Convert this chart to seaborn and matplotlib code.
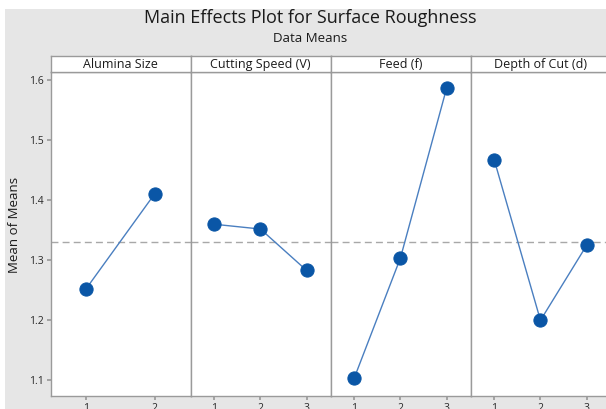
import numpy as np
import pandas as pd
import matplotlib
matplotlib.use("Agg")
import matplotlib.pyplot as plt
import seaborn as sns
from matplotlib.patches import Rectangle

# === Data ===
factors = ["Alumina Size", "Cutting Speed (V)", "Feed (f)", "Depth of Cut (d)"]
alumina_means = [1.252, 1.411]
speed_means = [1.360, 1.352, 1.283]
feed_means = [1.104, 1.304, 1.587]
depth_means = [1.467, 1.200, 1.325]
grand_mean = 1.331
y_ticks = [1.1, 1.2, 1.3, 1.4, 1.5, 1.6]

all_means = [alumina_means, speed_means, feed_means, depth_means]
rows = []
for name, vals in zip(factors, all_means):
    for lvl, v in enumerate(vals, start=1):
        rows.append({"factor": name, "level": lvl, "mean": v})
df = pd.DataFrame(rows)

sns.set_theme(style="white")
plt.rcParams["font.family"] = ["Open Sans", "DejaVu Sans"]

W, H = 606, 409
fig = plt.figure(figsize=(W / 100, H / 100), dpi=100)
fig.patch.set_facecolor("white")
# grey frame like Minitab
fig.add_artist(Rectangle((5 / W, 0), 1, 1 - 9 / H, transform=fig.transFigure,
                         facecolor="#e6e6e6", edgecolor="none", zorder=-10))

frame = "#9a9a9a"
blue_pt = "#0a56a6"
blue_ln = "#4a7fc0"

x0, pw = 50.7, 140.0
top, bottom, strip_h = 71.7, 396.0, 16.0

axes = []
for i, name in enumerate(factors):
    left = (x0 + i * pw) / W
    ax = fig.add_axes([left, (H - bottom) / H, pw / W, (bottom - top) / H],
                      sharey=axes[0] if axes else None)
    axes.append(ax)
    sub = df[df["factor"] == name]
    n = len(sub)
    ax.axhline(grand_mean, color="#a8a8a8", lw=1.0, ls=(0, (5, 3)), zorder=1)
    sns.lineplot(data=sub, x="level", y="mean", ax=ax, color=blue_ln, lw=1.0,
                 marker="o", markersize=9.5, markerfacecolor=blue_pt,
                 markeredgecolor=blue_pt, zorder=3)
    ax.set_xlim(0.49, n + 0.52)
    ax.set_xticks(range(1, n + 1))
    ax.set_xticklabels([str(k) for k in range(1, n + 1)])
    ax.set_xlabel("")
    ax.set_ylabel("")
    ax.set_facecolor("white")
    for s in ax.spines.values():
        s.set_color(frame)
        s.set_linewidth(1.0)
    ax.tick_params(axis="x", length=3, color=frame, labelsize=7.5,
                   labelcolor="#2a2a2a", pad=2, bottom=True)
    if i == 0:
        ax.tick_params(axis="y", length=3, color=frame, labelsize=7.5,
                       labelcolor="#2a2a2a", pad=2, left=True)
    else:
        ax.tick_params(axis="y", left=False, labelleft=False)

    # strip header
    sax = fig.add_axes([left, (H - top) / H, pw / W, strip_h / H])
    sax.set_facecolor("white")
    sax.set_xticks([])
    sax.set_yticks([])
    for s in sax.spines.values():
        s.set_color(frame)
        s.set_linewidth(1.0)
    sax.text(0.5, 0.45, name, ha="center", va="center", fontsize=9,
             color="#1a1a1a", transform=sax.transAxes)

axes[0].set_ylim(1.074, 1.614)
axes[0].set_yticks(y_ticks)
axes[0].set_yticklabels([f"{t:.1f}" for t in y_ticks])

fig.text(15 / W, 1 - 225 / H, "Mean of Means", rotation=90, ha="center",
         va="center", fontsize=9.5, color="#1a1a1a")
fig.text(310 / W, 1 - 18 / H, "Main Effects Plot for Surface Roughness",
         ha="center", va="center", fontsize=13, color="#1a1a1a")
fig.text(310 / W, 1 - 38 / H, "Data Means", ha="center", va="center",
         fontsize=9.5, color="#1a1a1a")

fig.savefig("out.png", dpi=100)
